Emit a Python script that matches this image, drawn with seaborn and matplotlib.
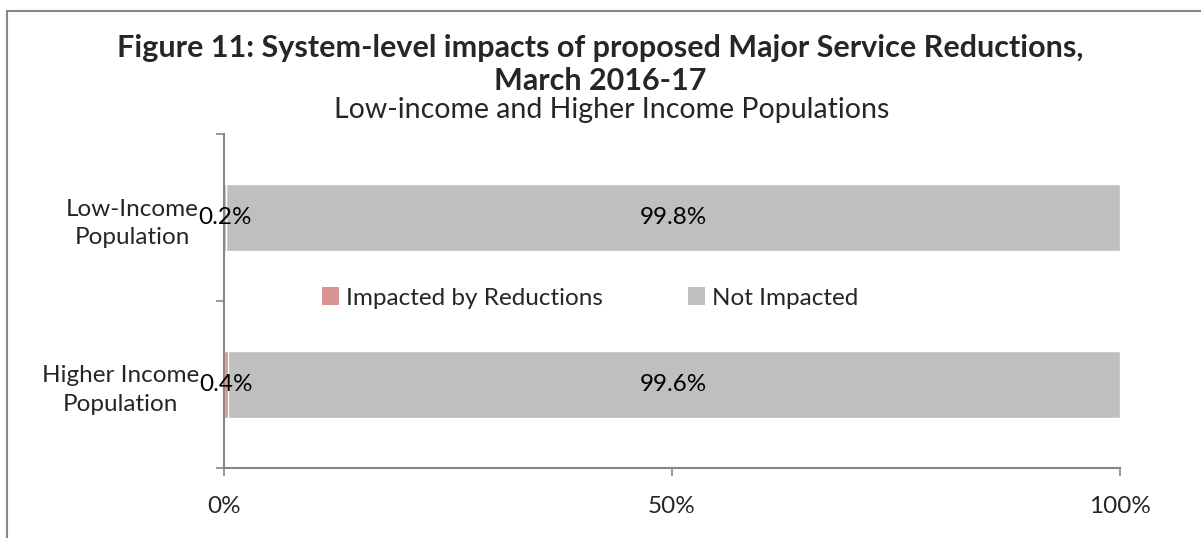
import matplotlib
matplotlib.use("Agg")
import matplotlib.pyplot as plt
import seaborn as sns
import pandas as pd
from matplotlib.patches import Patch
from matplotlib.lines import Line2D

categories = ["Low-Income\nPopulation", "Higher Income\nPopulation"]
impacted = [0.2, 0.4]
not_impacted = [99.8, 99.6]
series_names = ["Impacted by Reductions", "Not Impacted"]
x_ticks = [0, 50, 100]
x_tick_labels = ["0%", "50%", "100%"]
title_lines = ["Figure 11: System-level impacts of proposed Major Service Reductions,", "March 2016-17"]
subtitle = "Low-income and Higher Income Populations"

PINK = "#D99594"
GREY = "#BFBFBF"
AXC = "#868686"
FS = 17.5

sns.set_theme(style="white")
plt.rcParams["font.family"] = ["Lato", "DejaVu Sans"]

df = pd.DataFrame({"cat": categories, "impacted": impacted, "not": not_impacted})
df["total"] = df["impacted"] + df["not"]

fig = plt.figure(figsize=(12.01, 5.38), dpi=100)
ax = fig.add_axes([224 / 1201, (538 - 468) / 538, (1120 - 224) / 1201, (468 - 134) / 538])

sns.barplot(data=df, y="cat", x="total", color=GREY, orient="h", width=0.4, ax=ax, saturation=1)
sns.barplot(data=df, y="cat", x="impacted", color=PINK, orient="h", width=0.4, ax=ax, saturation=1)

cont_grey, cont_pink = ax.containers[0], ax.containers[1]
ax.bar_label(cont_pink, labels=[f"{v:.1f}%" for v in impacted], label_type="center", fontsize=FS, color="black")
for bar, imp, val in zip(cont_grey, impacted, not_impacted):
    y = bar.get_y() + bar.get_height() / 2
    ax.annotate(f"{val:.1f}%", xy=(imp + val / 2, y), ha="center", va="center", fontsize=FS, color="black")

ax.set_xlim(0, 100)
ax.set_ylim(1.5, -0.5)
ax.set_xticks(x_ticks)
ax.set_xticklabels(x_tick_labels, fontsize=FS)
ax.set_yticks([0, 1])
ax.set_yticklabels(categories, fontsize=FS, multialignment="center", linespacing=1.45)
ax.set_yticks([-0.5, 0.5, 1.5], minor=True)
ax.tick_params(axis="y", which="major", length=0, pad=18)
ax.tick_params(axis="y", which="minor", length=6, width=1.2, color=AXC, left=True)
ax.tick_params(axis="x", which="major", length=6, width=1.2, color=AXC, bottom=True, direction="out", pad=14)
ax.set_xlabel("")
ax.set_ylabel("")
ax.grid(False)
for s in ["top", "right"]:
    ax.spines[s].set_visible(False)
for s in ["left", "bottom"]:
    ax.spines[s].set_color(AXC)
    ax.spines[s].set_linewidth(1.5)

handles = [Patch(facecolor=PINK, edgecolor="none"), Patch(facecolor=GREY, edgecolor="none")]
ax.legend(handles, series_names, ncol=2, loc="center", bbox_to_anchor=((590 - 224) / 896, (468 - 298) / 334),
          frameon=False, fontsize=FS, handlelength=0.7, handleheight=0.7, handletextpad=0.3,
          columnspacing=3.5, borderpad=0, borderaxespad=0)

fig.text(600 / 1201, 1 - 48 / 538, title_lines[0], ha="center", va="center", fontsize=22, fontweight="bold")
fig.text(600 / 1201, 1 - 81 / 538, title_lines[1], ha="center", va="center", fontsize=22, fontweight="bold")
fig.text(612 / 1201, 1 - 110 / 538, subtitle, ha="center", va="center", fontsize=20.5)

fig.add_artist(Line2D([7 / 1201, 7 / 1201], [0, 1 - 11 / 538], transform=fig.transFigure, color=AXC, lw=1.5))
fig.add_artist(Line2D([7 / 1201, 1], [1 - 11 / 538, 1 - 11 / 538], transform=fig.transFigure, color=AXC, lw=1.5))

fig.savefig("out.png", dpi=100)
